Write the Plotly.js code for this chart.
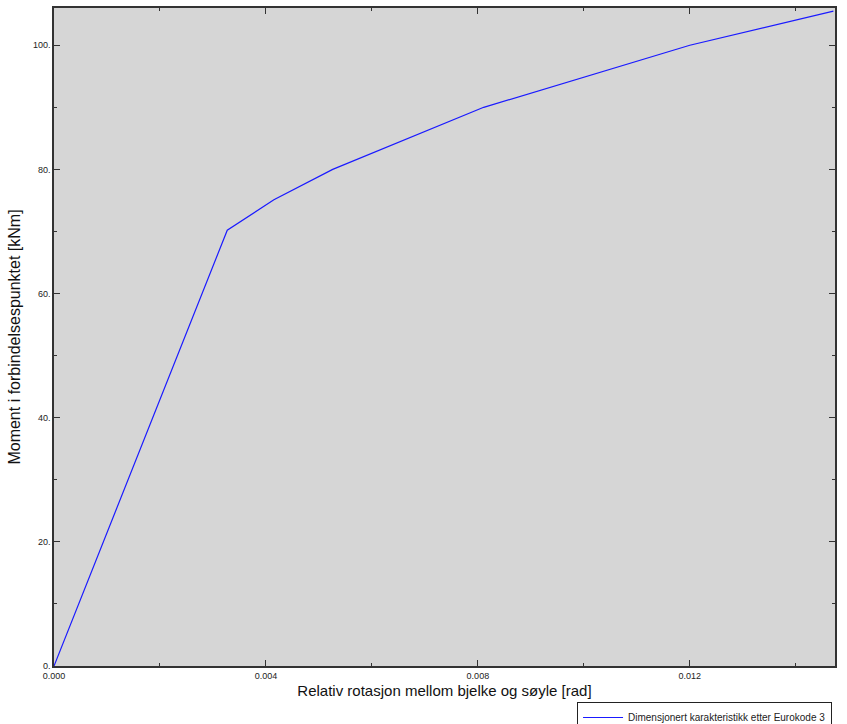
<!DOCTYPE html>
<html>
<head>
<meta charset="utf-8">
<script src="https://cdn.plot.ly/plotly-3.0.1.min.js"></script>
<style>
  html, body { margin: 0; padding: 0; background: #ffffff; }
  #chart { width: 847px; height: 724px; }
</style>
</head>
<body>
<div id="chart"></div>
<script>
// Moment–rotation characteristic of the beam-column connection
const rotation = [0, 0.00327, 0.00415, 0.00526, 0.00811, 0.0120, 0.01471];
const moment   = [0, 70.2, 75.1, 80.0, 90.0, 100.0, 105.5];
const seriesName = 'Dimensjonert karakteristikk etter Eurokode 3';

const xTickVals = [0, 0.004, 0.008, 0.012];
const xTickText = ['0.000', '0.004', '0.008', '0.012'];
const yTickVals = [0, 20, 40, 60, 80, 100];
const yTickText = ['0.', '20.', '40.', '60.', '80.', '100.'];

const frameColor = '#333333';
const fontFamily = 'Liberation Sans, Arial, sans-serif';
const tickFont = { family: fontFamily, size: 9, color: '#222222' };

const trace = {
  x: rotation,
  y: moment,
  type: 'scatter',
  mode: 'lines',
  name: seriesName,
  line: { color: '#1a1aff', width: 1.2 },
  showlegend: true
};

const layout = {
  width: 847,
  height: 724,
  margin: { l: 54, r: 12, t: 8, b: 58, autoexpand: false },
  paper_bgcolor: '#ffffff',
  plot_bgcolor: '#d6d6d6',
  showlegend: true,
  xaxis: {
    range: [0, 0.01474],
    tickvals: xTickVals,
    ticktext: xTickText,
    ticks: 'inside',
    ticklen: 6,
    tickwidth: 1,
    tickcolor: frameColor,
    minor: { dtick: 0.002, tick0: 0, ticks: 'inside', ticklen: 3, tickcolor: frameColor, showgrid: false },
    showgrid: false,
    zeroline: false,
    showline: true,
    linecolor: frameColor,
    linewidth: 1.5,
    mirror: 'ticks',
    tickfont: tickFont,
    title: { text: 'Relativ rotasjon mellom bjelke og søyle [rad]', font: { family: fontFamily, size: 15, color: '#111111' }, standoff: 6 }
  },
  yaxis: {
    range: [0, 106],
    tickvals: yTickVals,
    ticktext: yTickText,
    ticks: 'inside',
    ticklen: 6,
    tickwidth: 1,
    tickcolor: frameColor,
    minor: { dtick: 10, tick0: 0, ticks: 'inside', ticklen: 3, tickcolor: frameColor, showgrid: false },
    showgrid: false,
    zeroline: false,
    showline: true,
    linecolor: frameColor,
    linewidth: 1.5,
    mirror: 'ticks',
    tickfont: tickFont,
    title: { text: 'Moment i forbindelsespunktet [kNm]', font: { family: fontFamily, size: 16, color: '#111111' }, standoff: 8 }
  },
  legend: {
    x: 0.6697,
    xanchor: 'left',
    y: -0.0547,
    yanchor: 'top',
    itemwidth: 40,
    bgcolor: '#ffffff',
    bordercolor: '#222222',
    borderwidth: 1,
    font: { family: fontFamily, size: 10, color: '#222222' }
  }
};

Plotly.newPlot('chart', [trace], layout, { displayModeBar: false, responsive: false });
</script>
</body>
</html>
